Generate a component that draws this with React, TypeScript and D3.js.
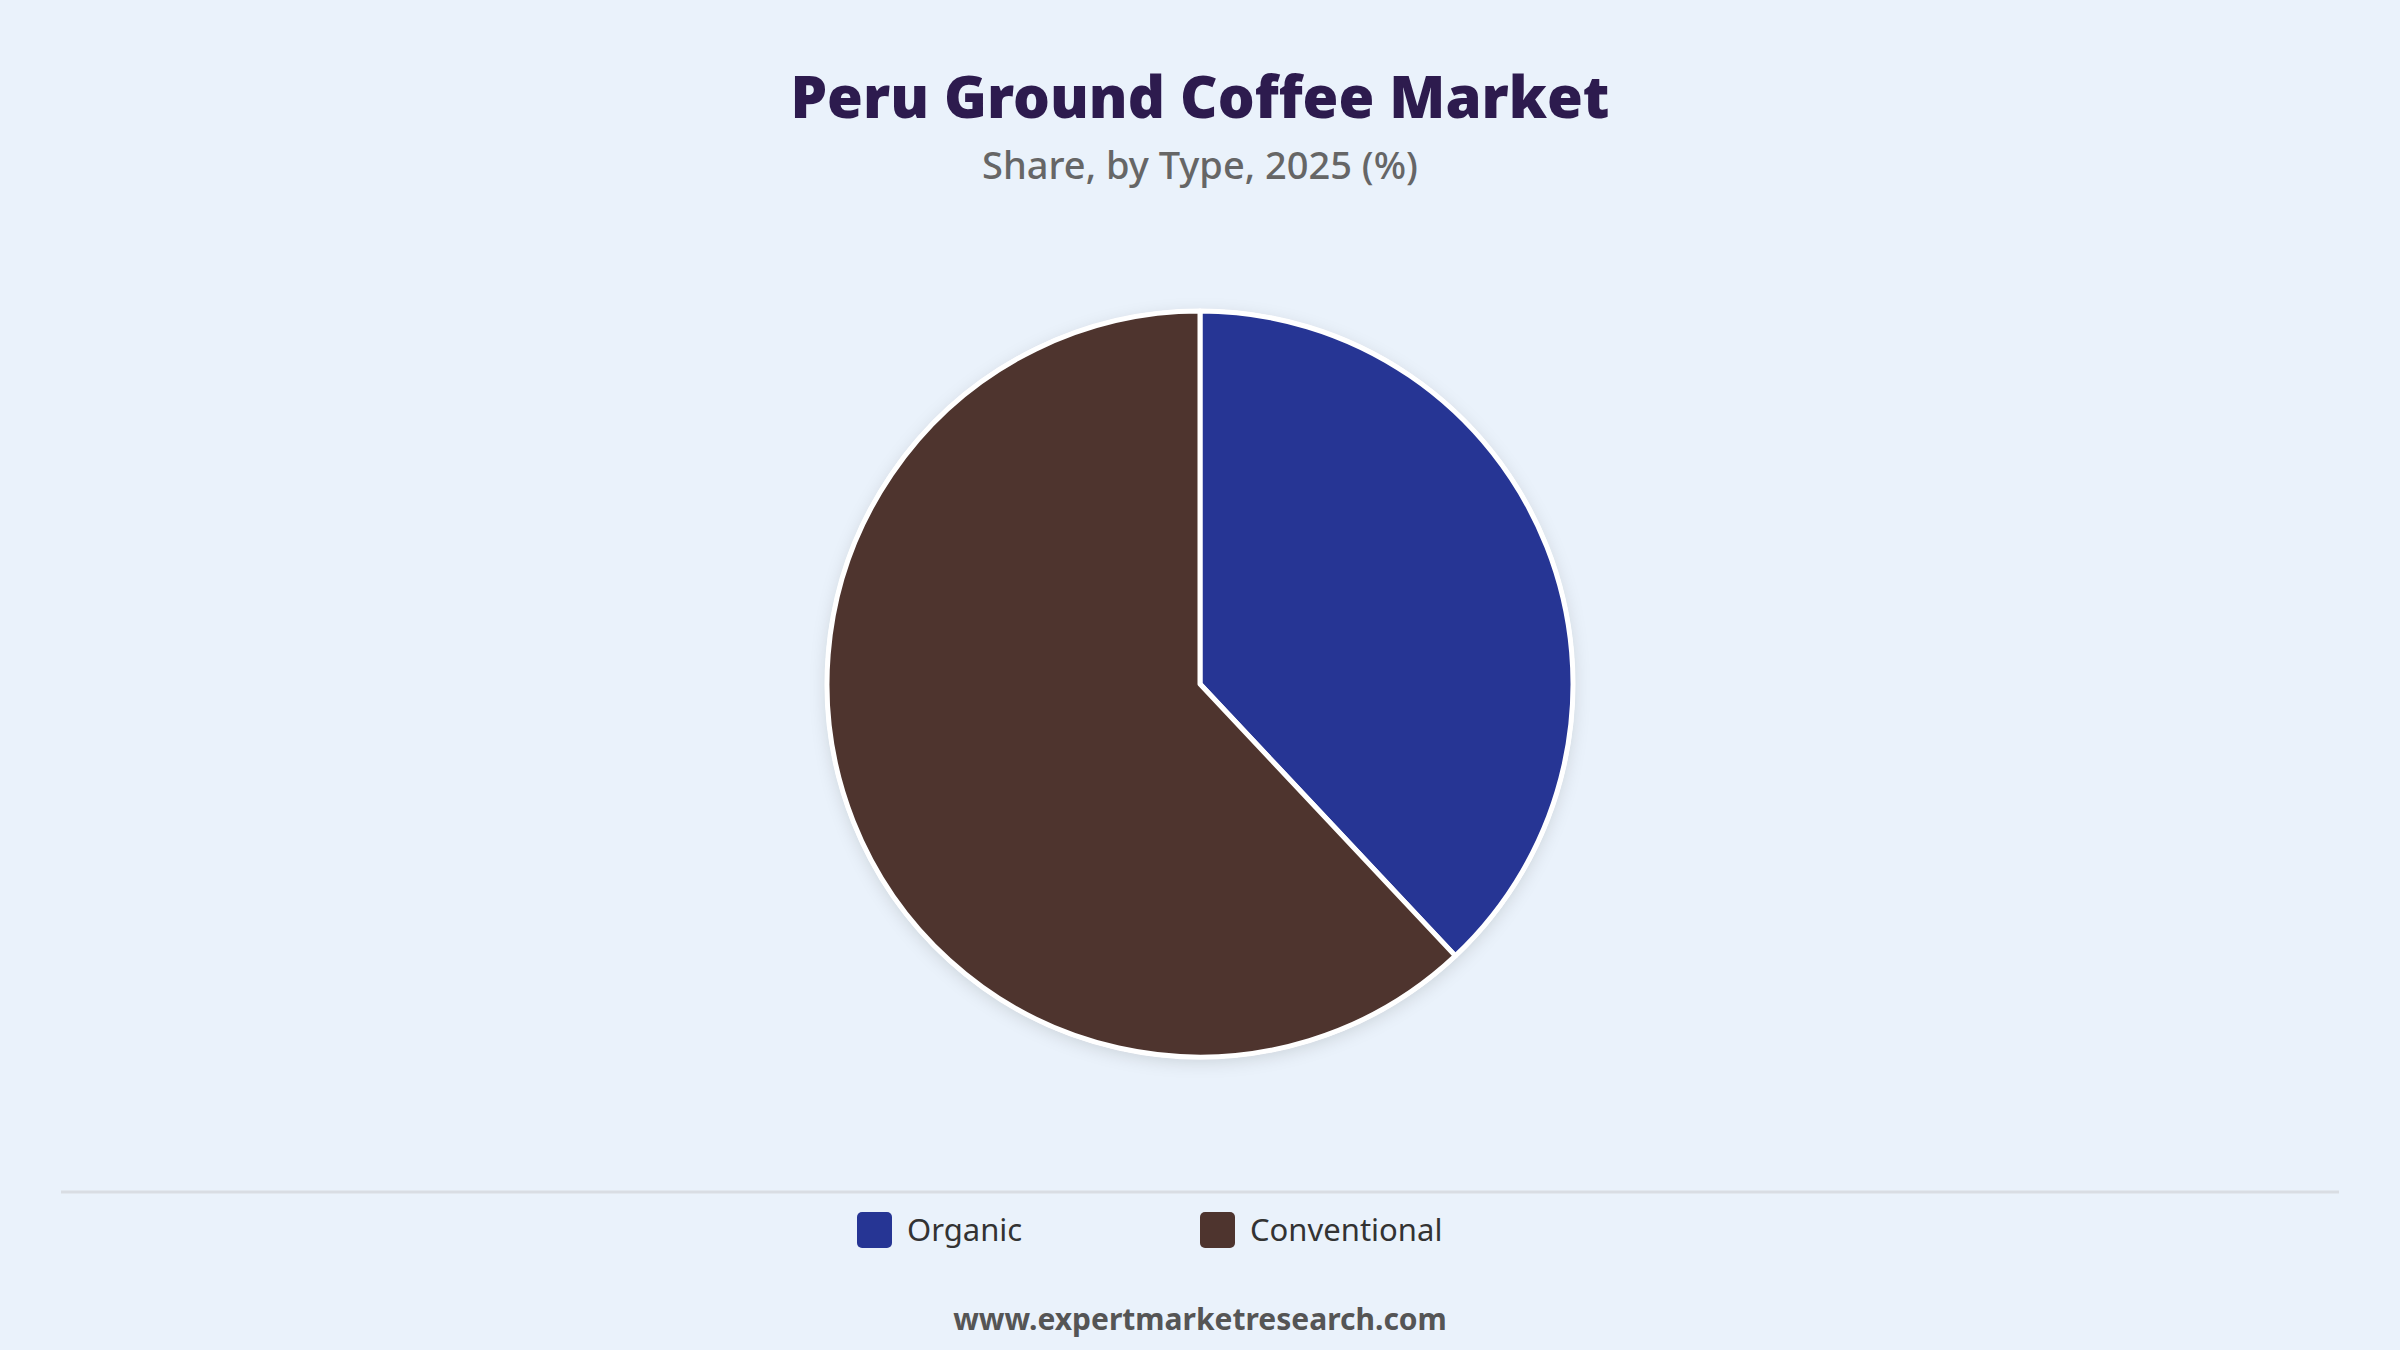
import { useEffect, useRef } from 'react';
import * as d3 from 'd3';

// Chart data
const categories = ['Organic', 'Conventional'];
const shares = [38, 62];
const colors = ['#263594', '#4E342E'];

const titleText = 'Peru Ground Coffee Market';
const subtitleText = 'Share, by Type, 2025 (%)';
const footerText = 'www.expertmarketresearch.com';

export default function App() {
    const ref = useRef<SVGSVGElement>(null);

    useEffect(() => {
        const width = 2400;
        const height = 1350;
        const svg = d3.select(ref.current);
        svg.selectAll('*').remove();

        svg.append('rect').attr('width', width).attr('height', height).attr('fill', '#EAF2FB');

        const defs = svg.append('defs');
        const filter = defs.append('filter').attr('id', 'pieShadow')
            .attr('x', '-20%').attr('y', '-20%').attr('width', '140%').attr('height', '140%');
        filter.append('feDropShadow')
            .attr('dx', 0).attr('dy', 4).attr('stdDeviation', 8)
            .attr('flood-color', '#000').attr('flood-opacity', 0.12);

        // Titles
        svg.append('text')
            .attr('x', width / 2).attr('y', 118)
            .attr('text-anchor', 'middle')
            .style('font-family', '"Noto Sans", sans-serif')
            .style('font-weight', 900)
            .style('font-size', '58px')
            .attr('fill', '#2D1B4E')
            .text(titleText);

        svg.append('text')
            .attr('x', width / 2).attr('y', 179)
            .attr('text-anchor', 'middle')
            .style('font-family', '"Noto Sans", sans-serif')
            .style('font-weight', 500)
            .style('font-size', '38px')
            .attr('fill', '#666666')
            .text(subtitleText);

        // Pie
        const cx = 1200, cy = 684, radius = 373;
        const data = categories.map((c, i) => ({ name: c, value: shares[i], color: colors[i] }));
        const pie = d3.pie<typeof data[0]>().value(d => d.value).sort(null);
        const arc = d3.arc<d3.PieArcDatum<typeof data[0]>>().innerRadius(0).outerRadius(radius);

        const g = svg.append('g').attr('transform', `translate(${cx},${cy})`);
        g.append('circle').attr('r', radius + 2).attr('fill', '#fff').attr('filter', 'url(#pieShadow)');
        g.selectAll('path')
            .data(pie(data))
            .join('path')
            .attr('d', arc)
            .attr('fill', d => d.data.color)
            .attr('stroke', '#fff')
            .attr('stroke-width', 5)
            .attr('stroke-linejoin', 'round');

        // Separator line
        svg.append('line')
            .attr('x1', 61).attr('x2', 2339)
            .attr('y1', 1192).attr('y2', 1192)
            .attr('stroke', '#D9DDE3').attr('stroke-width', 3);

        // Legend
        const legendX = [857, 1200];
        const legend = svg.append('g');
        data.forEach((d, i) => {
            legend.append('rect')
                .attr('x', legendX[i]).attr('y', 1212)
                .attr('width', 35).attr('height', 36)
                .attr('rx', 5)
                .attr('fill', d.color);
            legend.append('text')
                .attr('x', legendX[i] + 50).attr('y', 1241)
                .style('font-family', '"Noto Sans", sans-serif')
                .style('font-size', '31px')
                .attr('fill', '#333333')
                .text(d.name);
        });

        // Footer
        svg.append('text')
            .attr('x', width / 2).attr('y', 1330)
            .attr('text-anchor', 'middle')
            .style('font-family', '"Noto Sans", sans-serif')
            .style('font-weight', 700)
            .style('font-size', '30px')
            .attr('fill', '#555555')
            .text(footerText);
    }, []);

    return <svg ref={ref} width={2400} height={1350}
        style={{ position: 'absolute', left: 0, top: 0, display: 'block' }} />;
}
